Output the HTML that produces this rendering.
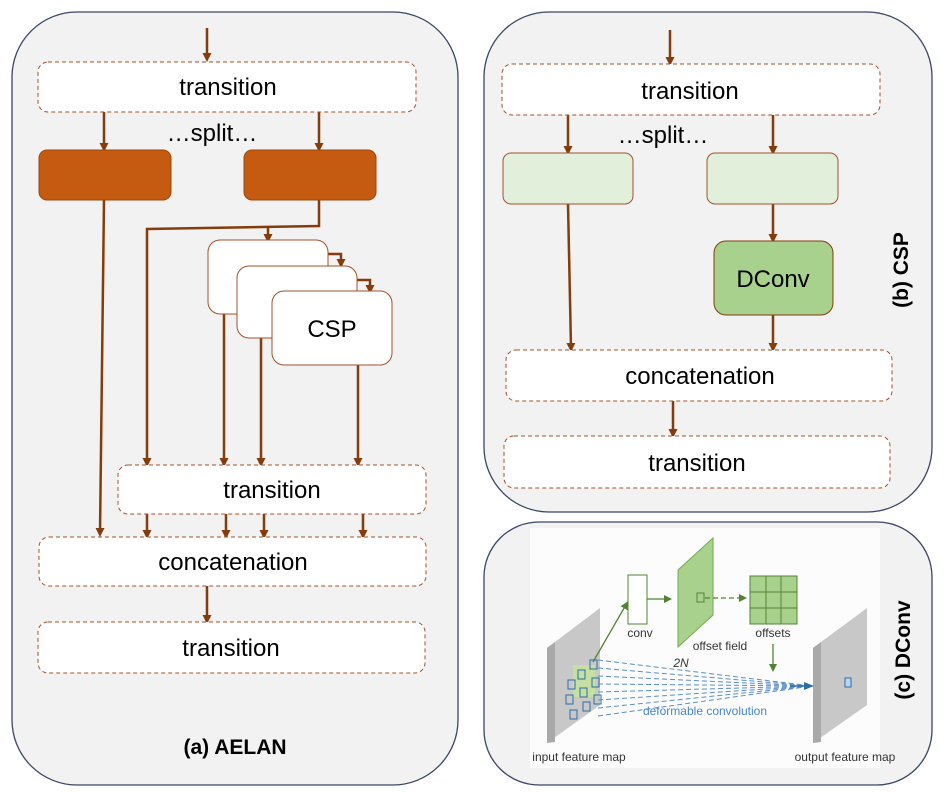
<!DOCTYPE html>
<html><head><meta charset="utf-8"><style>
html,body{margin:0;padding:0;background:#fff}
svg{display:block}
text{font-family:"Liberation Sans",Arial,sans-serif}
</style></head><body>
<svg width="944" height="792" viewBox="0 0 944 792" xmlns="http://www.w3.org/2000/svg">
<defs>
<marker id="ah" markerWidth="9" markerHeight="9" refX="5" refY="4.5" orient="auto" markerUnits="userSpaceOnUse"><path d="M0,0 L9,4.5 L0,9 z" fill="#843c0c"/></marker>
<marker id="gh" markerWidth="8" markerHeight="8" refX="6" refY="4" orient="auto" markerUnits="userSpaceOnUse"><path d="M0,0 L8,4 L0,8 z" fill="#548235"/></marker>
<marker id="bh" markerWidth="10" markerHeight="8" refX="8" refY="4" orient="auto" markerUnits="userSpaceOnUse"><path d="M0,0 L10,4 L0,8 z" fill="#2e6da4"/></marker>
</defs>
<g stroke="#3c4663" stroke-width="1.3" fill="#f2f2f2">
<rect x="12" y="12" width="446" height="773" rx="65"/>
<rect x="484" y="12" width="448" height="500" rx="65"/>
<rect x="484" y="522" width="448" height="263" rx="55"/>
</g>
<!-- Panel a -->
<g stroke="#843c0c" stroke-width="2.5" fill="none">
<line x1="207" y1="28" x2="207" y2="58" marker-end="url(#ah)"/>
<line x1="104" y1="112" x2="104" y2="148" marker-end="url(#ah)"/>
<line x1="319" y1="112" x2="319" y2="148" marker-end="url(#ah)"/>
<line x1="104" y1="200" x2="100" y2="533" marker-end="url(#ah)"/>
<polyline points="319,200 319,226 147,229 147,463" marker-end="url(#ah)"/>
<line x1="268" y1="228" x2="268" y2="239" marker-end="url(#ah)"/>
<polyline points="328,254 341,254 341,264" marker-end="url(#ah)"/>
<polyline points="357,280 370,280 370,290" marker-end="url(#ah)"/>
<line x1="224" y1="314" x2="224" y2="463" marker-end="url(#ah)"/>
<line x1="261" y1="338" x2="261" y2="463" marker-end="url(#ah)"/>
<line x1="358" y1="365" x2="358" y2="463" marker-end="url(#ah)"/>
<line x1="147" y1="514" x2="147" y2="535" marker-end="url(#ah)"/>
<line x1="226" y1="514" x2="226" y2="535" marker-end="url(#ah)"/>
<line x1="264" y1="514" x2="264" y2="535" marker-end="url(#ah)"/>
<line x1="363" y1="514" x2="363" y2="535" marker-end="url(#ah)"/>
<line x1="207" y1="586" x2="207" y2="620" marker-end="url(#ah)"/>
</g>
<g stroke="#a0522d" stroke-width="1" stroke-dasharray="4,3" fill="#fff">
<rect x="38" y="62" width="378" height="50" rx="10"/>
<rect x="118" y="465" width="308" height="49" rx="10"/>
<rect x="39" y="537" width="387" height="49" rx="10"/>
<rect x="38" y="622" width="387" height="51" rx="10"/>
</g>
<rect x="39" y="150" width="132" height="50" rx="8" fill="#c55a11" stroke="#a0460c"/>
<rect x="244" y="150" width="132" height="50" rx="8" fill="#c55a11" stroke="#a0460c"/>
<g fill="#fff" stroke="#a0522d" stroke-width="1">
<rect x="208" y="240" width="120" height="74" rx="12"/>
<rect x="237" y="266" width="120" height="72" rx="12"/>
<rect x="272" y="291" width="120" height="74" rx="12"/>
</g>
<g font-size="24" fill="#000" text-anchor="middle">
<text x="228" y="95">transition</text>
<text x="212" y="141">…split…</text>
<text x="332" y="337">CSP</text>
<text x="272" y="498">transition</text>
<text x="233" y="570">concatenation</text>
<text x="231" y="656">transition</text>
<text x="235" y="754" font-weight="bold" font-size="21">(a) AELAN</text>
</g>
<!-- Panel b -->
<g stroke="#843c0c" stroke-width="2.5" fill="none">
<line x1="670" y1="30" x2="670" y2="62" marker-end="url(#ah)"/>
<line x1="568" y1="115" x2="568" y2="151" marker-end="url(#ah)"/>
<line x1="773" y1="115" x2="773" y2="151" marker-end="url(#ah)"/>
<line x1="568" y1="204" x2="571" y2="348" marker-end="url(#ah)"/>
<line x1="773" y1="204" x2="773" y2="239" marker-end="url(#ah)"/>
<line x1="773" y1="315" x2="773" y2="348" marker-end="url(#ah)"/>
<line x1="673" y1="401" x2="673" y2="434" marker-end="url(#ah)"/>
</g>
<g stroke="#a0522d" stroke-width="1" stroke-dasharray="4,3" fill="#fff">
<rect x="502" y="64" width="378" height="51" rx="10"/>
<rect x="506" y="350" width="386" height="51" rx="10"/>
<rect x="504" y="436" width="386" height="52" rx="10"/>
</g>
<rect x="503" y="153" width="130" height="51" rx="8" fill="#e2efda" stroke="#a0522d"/>
<rect x="707" y="153" width="131" height="51" rx="8" fill="#e2efda" stroke="#a0522d"/>
<rect x="714" y="241" width="119" height="74" rx="12" fill="#a9d18e" stroke="#843c0c"/>
<g font-size="24" fill="#000" text-anchor="middle">
<text x="690" y="99">transition</text>
<text x="663" y="143">…split…</text>
<text x="773" y="287">DConv</text>
<text x="700" y="384">concatenation</text>
<text x="697" y="471">transition</text>
</g>
<text transform="translate(908,270) rotate(-90)" text-anchor="middle" font-size="21" font-weight="bold">(b) CSP</text>
<text transform="translate(910,650) rotate(-90)" text-anchor="middle" font-size="21" font-weight="bold">(c) DConv</text>
<!-- Panel c -->
<rect x="530" y="528" width="350" height="240" fill="#fcfcfc"/>
<polygon points="547,648 600,608 600,705 547,743" fill="#c8c8c8"/>
<polygon points="547,648 555,642 555,742 547,743" fill="#a9a9a9"/>
<polygon points="813,648 867,608 867,705 813,743" fill="#c8c8c8"/>
<polygon points="813,648 821,642 821,742 813,743" fill="#a9a9a9"/>
<rect x="573" y="665" width="22" height="32" fill="#c6e0a4"/>
<g stroke="#2e6da4" stroke-width="1" fill="none">
<rect x="568" y="680" width="7" height="9"/><rect x="578" y="670" width="7" height="9"/><rect x="590" y="660" width="7" height="9"/>
<rect x="566" y="695" width="7" height="9"/><rect x="580" y="688" width="7" height="9"/><rect x="592" y="678" width="7" height="9"/>
<rect x="570" y="710" width="7" height="9"/><rect x="583" y="702" width="7" height="9"/><rect x="594" y="695" width="7" height="9"/>
<rect x="845" y="678" width="6" height="9" fill="#bcd4f0"/>
</g>
<g stroke="#5b8ec4" stroke-width="1" stroke-dasharray="5,3">
<line x1="598" y1="660" x2="812" y2="686"/><line x1="598" y1="668" x2="812" y2="686"/>
<line x1="598" y1="676" x2="812" y2="686"/><line x1="598" y1="684" x2="812" y2="686"/>
<line x1="598" y1="692" x2="812" y2="686"/><line x1="598" y1="700" x2="812" y2="686"/>
<line x1="598" y1="708" x2="812" y2="686"/><line x1="598" y1="716" x2="812" y2="686"/>
</g>
<line x1="790" y1="686" x2="812" y2="686" stroke="#2e6da4" stroke-width="1.5" marker-end="url(#bh)"/>
<line x1="593" y1="662" x2="627" y2="603" stroke="#548235" stroke-width="1.3" marker-end="url(#gh)"/>
<rect x="628" y="575" width="19" height="49" fill="#fff" stroke="#548235"/>
<line x1="647" y1="599" x2="670" y2="599" stroke="#548235" stroke-width="1.3" marker-end="url(#gh)"/>
<polygon points="678,570 713,538 713,615 678,647" fill="#a9d18e" stroke="#70ad47"/>
<rect x="697" y="593" width="7" height="9" fill="none" stroke="#548235"/>
<line x1="705" y1="598" x2="745" y2="598" stroke="#548235" stroke-width="1.3" stroke-dasharray="5,3" marker-end="url(#gh)"/>
<rect x="750" y="576" width="47" height="48" fill="#a9d18e" stroke="#548235"/>
<g stroke="#548235"><line x1="766" y1="576" x2="766" y2="624"/><line x1="781" y1="576" x2="781" y2="624"/><line x1="750" y1="592" x2="797" y2="592"/><line x1="750" y1="608" x2="797" y2="608"/></g>
<line x1="773" y1="644" x2="773" y2="670" stroke="#548235" stroke-width="1.3" marker-end="url(#gh)"/>
<g font-size="12" fill="#333" text-anchor="middle">
<text x="640" y="637">conv</text>
<text x="720" y="650">offset field</text>
<text x="773" y="637">offsets</text>
<text x="681" y="667" font-family="Liberation Serif" font-style="italic">2N</text>
<text x="705" y="715" fill="#4a86c5">deformable convolution</text>
<text x="579" y="761">input feature map</text>
<text x="845" y="761">output feature map</text>
</g>
</svg>
</body></html>
